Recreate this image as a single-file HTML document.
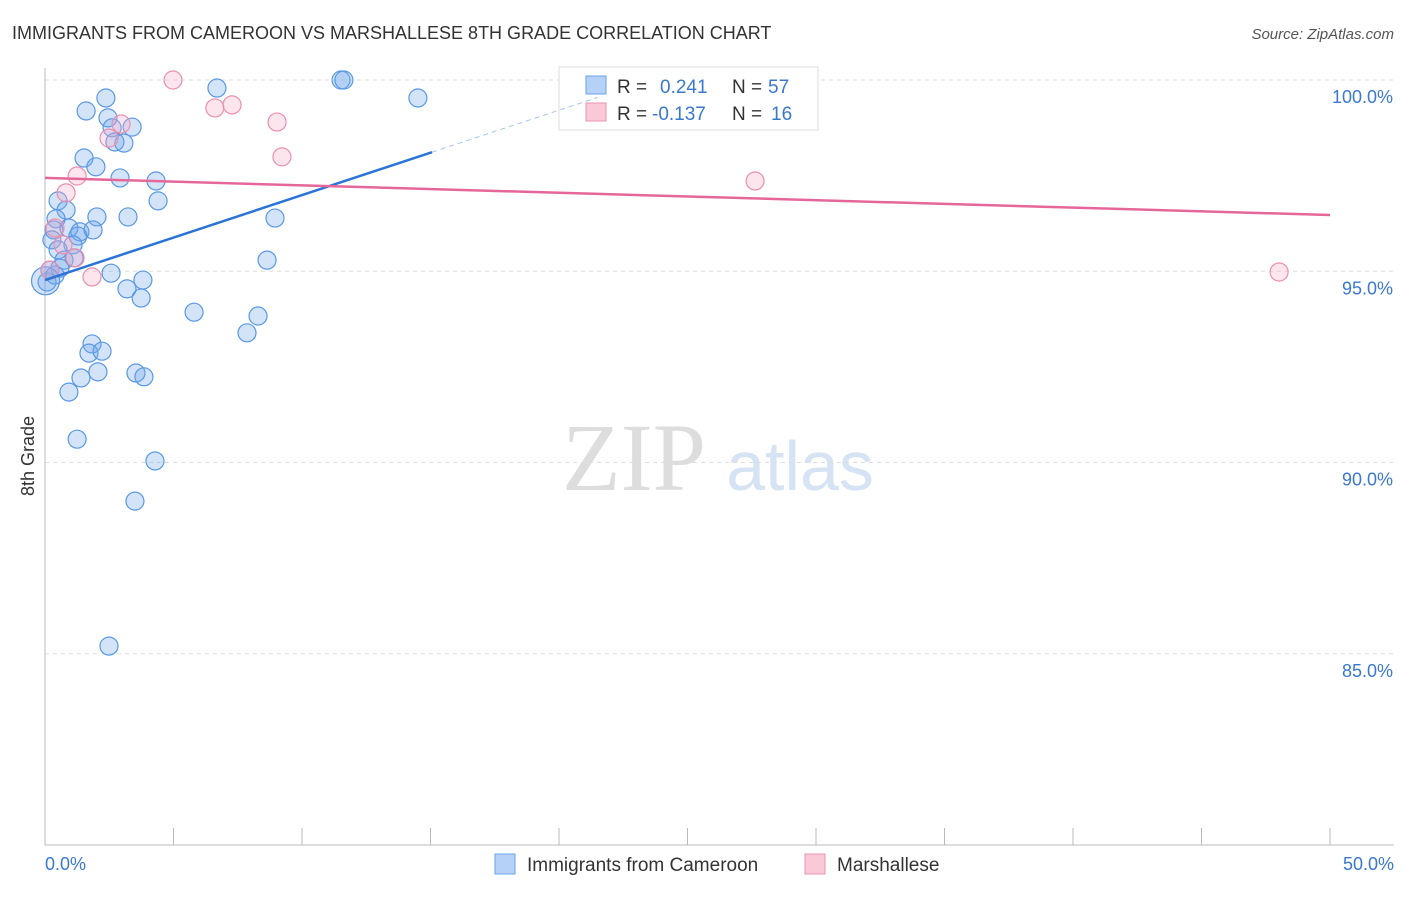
<!DOCTYPE html>
<html><head><meta charset="utf-8"><style>
body{margin:0;background:#fff;font-family:"Liberation Sans",sans-serif;}
</style></head><body>
<svg width="1406" height="892" xmlns="http://www.w3.org/2000/svg">
<text x="12" y="39" font-size="18" fill="#333">IMMIGRANTS FROM CAMEROON VS MARSHALLESE 8TH GRADE CORRELATION CHART</text>
<text x="1394" y="39" font-size="15" fill="#555" font-style="italic" text-anchor="end">Source: ZipAtlas.com</text>
<text x="634" y="490" font-size="96" fill="#ddd" font-family="Liberation Serif,serif" text-anchor="middle">ZIP</text>
<text x="800" y="490" font-size="70" fill="#d5e3f5" text-anchor="middle">atlas</text>
<g id="grid"></g>
<g id="axes"></g>
<g>
<rect x="559" y="67" width="259" height="63" fill="#fff" stroke="#ddd"/>
<rect x="586" y="76" width="20" height="18" fill="#b5d1f5" stroke="#6aa3e8"/>
<text x="617" y="93" font-size="19" fill="#333">R =</text>
<text x="660" y="93" font-size="19" fill="#3a78d0">0.241</text>
<text x="732" y="93" font-size="19" fill="#333">N =</text>
<text x="768" y="93" font-size="19" fill="#3a78d0">57</text>
<rect x="586" y="103" width="20" height="18" fill="#f9c9d8" stroke="#eb94b0"/>
<text x="617" y="120" font-size="19" fill="#333">R =</text>
<text x="652" y="120" font-size="19" fill="#3a78d0">-0.137</text>
<text x="732" y="120" font-size="19" fill="#333">N =</text>
<text x="771" y="120" font-size="19" fill="#3a78d0">16</text>
</g>
<g id="pts"></g>
<g id="lines"></g>
<text transform="translate(34,456) rotate(-90)" font-size="18" fill="#333" text-anchor="middle">8th Grade</text>
<g>
<rect x="495" y="854" width="20" height="20" fill="#b5d1f5" stroke="#6aa3e8"/>
<text x="527" y="871" font-size="19" fill="#333">Immigrants from Cameroon</text>
<rect x="805" y="854" width="20" height="20" fill="#f9c9d8" stroke="#eb94b0"/>
<text x="837" y="871" font-size="19" fill="#333">Marshallese</text>
</g>
</svg>
<script>
const blueX=[6.69,1.60,2.37,2.45,2.61,3.39,2.72,3.07,1.52,1.98,2.92,4.32,4.40,0.51,0.82,0.43,2.02,3.23,0.35,0.93,1.36,1.87,1.28,0.27,1.09,0.51,0.74,1.13,0.19,0.08,2.57,3.81,3.19,3.74,5.80,8.29,7.86,1.83,1.71,2.22,2.06,1.40,0.93,3.54,3.85,1.25,4.28,3.50,2.49,11.52,11.63,14.51,8.95,8.64,0.58,0.39,0.02];
const blueY=[99.79,99.19,99.53,99.01,98.75,98.77,98.38,98.35,97.96,97.73,97.44,97.36,96.84,96.84,96.60,96.37,96.42,96.42,96.08,96.13,96.03,96.08,95.92,95.82,95.69,95.56,95.29,95.35,95.03,94.72,94.95,94.77,94.54,94.30,93.93,93.83,93.39,93.10,92.86,92.91,92.37,92.21,91.84,92.34,92.24,90.61,90.04,88.99,85.20,100,100,99.53,96.39,95.29,95.08,94.90,94.75];
const pinkX=[4.98,6.61,7.28,9.03,9.22,2.49,2.96,1.25,0.82,1.83,27.63,48.02,0.39,0.70,1.17,0.19];
const pinkY=[100,99.27,99.35,98.90,97.99,98.48,98.85,97.49,97.05,94.85,97.36,94.98,96.13,95.69,95.35,95.03];
const blueTrend=[94.77,0.222];
const pinkTrend=[97.44,-0.0194];
const yTicks=[100,95,90,85];
const xTickVals=[0,5,10,15,20,25,30,35,40,45,50];
const NS="http://www.w3.org/2000/svg";
const sx=v=>45+v*25.7;
const sy=v=>80+(100-v)*38.25;
function mk(tag,attrs,parent){const e=document.createElementNS(NS,tag);for(const k in attrs)e.setAttribute(k,attrs[k]);parent.appendChild(e);return e;}
const grid=document.getElementById('grid'),axes=document.getElementById('axes'),pts=document.getElementById('pts'),lines=document.getElementById('lines');
yTicks.forEach(t=>{
 const l=mk('line',{x1:45,x2:1394,y1:sy(t),y2:sy(t),stroke:'#ddd','stroke-dasharray':'4,4'},grid);
 
 
 const tx=mk('text',{x:1393,y:sy(t)+23,'font-size':18,fill:'#3a78d0','text-anchor':'end'},grid);
 tx.textContent=t.toFixed(1)+'%';
 
 
});
let a=mk('line',{x1:45,x2:45,y1:68,y2:845,stroke:'#bbb'},axes);

a=mk('line',{x1:45,x2:1394,y1:845,y2:845,stroke:'#bbb'},axes);

xTickVals.forEach(t=>{
 const l=mk('line',{x1:sx(t),x2:sx(t),y1:828,y2:845,stroke:'#bbb'},axes);
 
 
});
[[0,'0.0%','start',45],[50,'50.0%','end',1394]].forEach(d=>{
 const tx=mk('text',{x:d[3],y:870,'font-size':18,fill:'#3a78d0','text-anchor':d[2]},axes);
 tx.textContent=d[1];
 
 
});
blueX.forEach((x,i)=>{
 const c=mk('circle',{cx:sx(x),cy:sy(blueY[i]),r:i==blueX.length-1?14:9,fill:'rgba(110,165,235,0.3)',stroke:'#5a98e4','stroke-width':1.2},pts);
 
 
});
pinkX.forEach((x,i)=>{
 const c=mk('circle',{cx:sx(x),cy:sy(pinkY[i]),r:9,fill:'rgba(245,170,195,0.3)',stroke:'#ea8fae','stroke-width':1.2},pts);
 
 
});
let t=mk('line',{x1:sx(0),y1:sy(blueTrend[0]),x2:sx(15.06),y2:sy(blueTrend[0]+blueTrend[1]*15.06),stroke:'#2a74d8','stroke-width':2.5},lines);

t=mk('line',{x1:sx(15.06),y1:sy(blueTrend[0]+blueTrend[1]*15.06),x2:sx(21.5),y2:sy(blueTrend[0]+blueTrend[1]*21.5),stroke:'#a6c6ee','stroke-width':1,'stroke-dasharray':'5,4'},lines);

t=mk('line',{x1:sx(0),y1:sy(pinkTrend[0]),x2:sx(50),y2:sy(pinkTrend[0]+pinkTrend[1]*50),stroke:'#e5679a','stroke-width':2.5},lines);

</script>
</body></html>
